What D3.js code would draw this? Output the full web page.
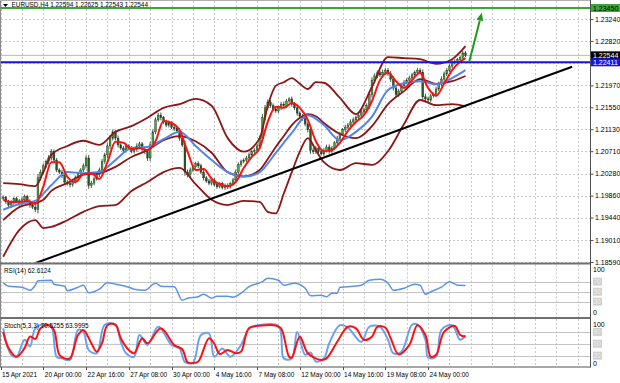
<!DOCTYPE html>
<html>
<head>
<meta charset="utf-8">
<script src="https://cdn.jsdelivr.net/npm/d3@7"></script>
<style>
  html, body { margin: 0; padding: 0; background: #fff; }
  svg { display: block; font-family: "Liberation Sans", Arial, sans-serif; }
</style>
</head>
<body>
<svg id="chart" width="620" height="383"></svg>
<script>
/* ------------------ data ------------------ */

// H4 closes, bar 0 = first bar after 15 Apr 2021
const closes = [
  1.1982,1.1974,1.1968,1.1972,1.1980,1.1976,1.1970,1.1978,1.1984,1.1974,
  1.1968,1.1964,1.1959,1.2020,1.2031,1.2043,1.2051,1.2058,1.2070,1.2054,
  1.2035,1.2031,1.2024,1.2012,1.2009,1.2007,1.2014,1.2020,1.2028,1.2035,
  1.2043,1.2058,1.2005,1.2010,1.2018,1.2026,1.2035,1.2051,1.2064,1.2081,
  1.2096,1.2108,1.2096,1.2083,1.2077,1.2073,1.2081,1.2077,1.2071,1.2075,
  1.2081,1.2085,1.2075,1.2070,1.2058,1.2083,1.2108,1.2131,1.2140,1.2135,
  1.2127,1.2121,1.2125,1.2117,1.2114,1.2110,1.2096,1.2083,1.2031,1.2026,
  1.2035,1.2041,1.2047,1.2043,1.2031,1.2020,1.2014,1.2010,1.2016,1.2007,
  1.2003,1.2009,1.2001,1.2005,1.2003,1.2009,1.2016,1.2031,1.2045,1.2051,
  1.2054,1.2058,1.2064,1.2070,1.2073,1.2081,1.2096,1.2135,1.2154,1.2165,
  1.2158,1.2152,1.2148,1.2154,1.2161,1.2158,1.2167,1.2171,1.2161,1.2154,
  1.2144,1.2138,1.2133,1.2123,1.2112,1.2073,1.2070,1.2077,1.2070,1.2066,
  1.2073,1.2079,1.2071,1.2077,1.2087,1.2096,1.2104,1.2112,1.2117,1.2121,
  1.2127,1.2131,1.2135,1.2140,1.2146,1.2150,1.2158,1.2179,1.2207,1.2215,
  1.2221,1.2217,1.2222,1.2226,1.2219,1.2209,1.2192,1.2179,1.2186,1.2196,
  1.2203,1.2207,1.2211,1.2217,1.2222,1.2226,1.2222,1.2175,1.2171,1.2169,
  1.2177,1.2180,1.2190,1.2200,1.2209,1.2219,1.2226,1.2234,1.2241,1.2243,
  1.2246,1.2250,1.2259,1.22544
];

// wick length per bar, pips
const wickPips = [
  9,7,8,10,6,8,7,9,8,7, 10,8,9,14,10,9,8,11,10,9, 8,7,9,8,7,10,8,9,8,7,
  9,10,12,9,8,7,9,10,8,11, 12,9,8,10,7,8,9,7,8,9, 10,8,7,9,11,12,10,9,8,10,
  7,8,9,7,8,9,10,8,14,10, 9,8,7,9,8,10,7,8,9,7, 8,6,7,8,9,7,8,10,9,8,
  7,8,9,7,8,9,10,14,11,10, 8,9,7,8,9,10,8,7,9,8, 10,7,8,9,10,14,9,8,9,7,
  8,9,10,8,7,9,8,7,9,8, 10,9,8,7,9,8,9,12,11,10, 9,8,10,9,8,11,10,9,8,7,
  9,8,9,8,7,9,8,11,12,9, 8,7,9,8,10,9,8,7,9,8, 7,6,8,7
];

// fast MA (red), [bar, price]
const fastMA = [
  [0,1.1978],[3,1.1974],[6,1.1974],[9,1.1976],[12,1.1970],[15,1.2003],[18,1.2050],
  [21,1.2050],[24,1.2022],[27,1.2012],[30,1.2027],[33,1.2029],[36,1.2018],[39,1.2050],
  [42,1.2089],[45,1.2087],[48,1.2075],[51,1.2077],[54,1.2073],[57,1.2090],[60,1.2129],
  [63,1.2125],[66,1.2112],[69,1.2070],[72,1.2035],[75,1.2037],[78,1.2018],[81,1.2008],
  [84,1.2004],[87,1.2012],[90,1.2039],[93,1.2060],[96,1.2077],[99,1.2127],[102,1.2156],
  [105,1.2154],[108,1.2163],[111,1.2154],[114,1.2131],[117,1.2090],[120,1.2071],
  [123,1.2073],[126,1.2087],[129,1.2110],[132,1.2127],[135,1.2140],[138,1.2167],
  [141,1.2207],[144,1.2221],[147,1.2205],[150,1.2192],[153,1.2207],[156,1.2221],
  [159,1.2192],[162,1.2177],[165,1.2200],[168,1.2226],[171,1.2242],[173,1.2249]
];

// slow MA (blue), [bar, price]
const slowMA = [
  [0,1.1959],[6,1.1970],[12,1.1976],[18,1.2006],[24,1.2031],[30,1.2029],[36,1.2031],
  [42,1.2054],[48,1.2077],[54,1.2079],[60,1.2094],[66,1.2108],[72,1.2081],[78,1.2054],
  [84,1.2031],[90,1.2022],[96,1.2031],[102,1.2068],[108,1.2106],[114,1.2140],
  [120,1.2121],[126,1.2092],[132,1.2108],[138,1.2137],[144,1.2188],[150,1.2201],
  [156,1.2205],[162,1.2199],[168,1.2211],[173,1.2226]
];

// Bollinger bands (dark red), [bar, price]
const bbUpper = [
  [0,1.2010],[6,1.2008],[12,1.2004],[15,1.2031],[18,1.2064],[24,1.2081],[30,1.2091],
  [36,1.2083],[42,1.2108],[48,1.2119],[54,1.2135],[60,1.2154],[66,1.2161],[72,1.2171],
  [78,1.2158],[84,1.2096],[90,1.2070],[96,1.2096],[99,1.2158],[102,1.2196],[105,1.2203],
  [108,1.2211],[111,1.2200],[114,1.2190],[117,1.2203],[120,1.2202],[126,1.2173],
  [132,1.2142],[138,1.2194],[144,1.2251],[150,1.2249],[156,1.2247],[162,1.2238],
  [168,1.2247],[173,1.2272]
];
const bbMiddle = [
  [0,1.1939],[6,1.1964],[12,1.1972],[15,1.1978],[18,1.1995],[24,1.2010],[30,1.2026],
  [36,1.2029],[42,1.2041],[48,1.2060],[54,1.2073],[60,1.2092],[66,1.2100],[72,1.2090],
  [78,1.2068],[84,1.2031],[90,1.2023],[96,1.2035],[99,1.2056],[102,1.2079],[105,1.2100],
  [108,1.2121],[111,1.2135],[114,1.2142],[117,1.2138],[120,1.2125],[126,1.2104],
  [132,1.2096],[138,1.2119],[144,1.2161],[150,1.2186],[156,1.2209],[162,1.2200],
  [168,1.2205],[173,1.2215]
];
const bbLower = [
  [0,1.1869],[6,1.1920],[12,1.1939],[15,1.1924],[18,1.1926],[24,1.1939],[30,1.1955],
  [36,1.1966],[42,1.1968],[48,1.1995],[54,1.2012],[60,1.2031],[66,1.2039],[72,1.2008],
  [78,1.1978],[84,1.1968],[90,1.1976],[96,1.1974],[99,1.1955],[102,1.1952],[105,1.1990],
  [108,1.2031],[111,1.2070],[114,1.2096],[117,1.2073],[120,1.2050],[126,1.2035],
  [132,1.2048],[138,1.2045],[144,1.2071],[150,1.2123],[156,1.2169],[162,1.2159],
  [168,1.2161],[173,1.2157]
];

// RSI(14), [bar, value]
const rsi = [
  [0,68],[2,61],[7,59],[10,53],[12,63],[13,72],[18,73],[19,65],[23,61],[24,52],[28,59],
  [30,63],[32,48],[36,55],[39,68],[42,65],[47,59],[49,55],[53,53],[57,67],[59,61],[64,60],
  [67,33],[69,37],[73,40],[75,45],[78,37],[80,41],[84,41],[86,39],[89,47],[92,60],[97,70],
  [99,77],[103,73],[105,63],[109,67],[113,57],[115,42],[119,43],[121,40],[123,47],[125,47],
  [126,59],[129,60],[134,63],[137,73],[141,75],[144,67],[146,53],[150,57],[154,65],[156,63],
  [158,45],[160,50],[164,59],[167,70],[170,63],[173,62.6]
];

// Stochastic(5,3,3): main (blue) and signal (red), [bar, value]
const stochMain = [
  [0,89],[3,22],[5,17],[8,60],[10,43],[12,89],[15,99],[18,93],[20,17],[22,13],[25,9],
  [28,85],[30,80],[32,34],[35,26],[38,98],[42,99],[44,55],[46,26],[49,17],[51,72],
  [54,47],[58,93],[63,47],[66,38],[68,4],[71,2],[74,72],[77,76],[79,17],[82,38],[85,17],
  [89,47],[92,89],[94,95],[103,95],[105,13],[108,13],[110,80],[113,22],[115,28],[117,5],
  [120,13],[122,51],[126,97],[129,91],[134,55],[137,93],[141,93],[144,60],[146,26],
  [149,30],[153,98],[155,99],[158,60],[159,15],[162,17],[164,85],[168,97],[171,60],[173,72]
];
const stochSignal = [
  [0,80],[2,39],[5,17],[8,39],[10,68],[12,62],[14,89],[17,97],[19,85],[21,22],[23,13],
  [25,13],[28,72],[30,85],[33,51],[35,30],[37,52],[39,97],[42,98],[44,64],[47,34],
  [49,26],[52,64],[54,51],[59,89],[64,47],[67,36],[69,3],[71,1],[73,5],[77,64],[79,50],
  [81,24],[84,34],[87,26],[89,30],[92,89],[97,96],[102,96],[104,89],[107,17],[108,15],
  [111,68],[114,26],[119,9],[121,13],[125,55],[129,93],[132,89],[135,60],[138,68],
  [140,93],[143,91],[145,64],[148,23],[152,47],[155,97],[158,72],[160,17],[162,22],
  [165,80],[169,95],[171,72],[173,68]
];

// axes
const priceTicks = [1.2324,1.2282,1.2240,1.2197,1.2155,1.2113,1.2071,1.2028,1.1986,1.1944,1.1901,1.1859];
const timeTickBars = [-1,15,31,47,63,79,95,111,127,143,159];
const timeTickLabels = ["15 Apr 2021","20 Apr 00:00","22 Apr 16:00","27 Apr 08:00","30 Apr 00:00",
  "4 May 16:00","7 May 08:00","12 May 00:00","14 May 16:00","19 May 08:00","24 May 00:00"];

// drawn objects
const resistance = 1.23450;
const support = 1.22411;
const bid = 1.22544;
const trendLine = [[11.9, 1.18565], [212.9, 1.22327]];
const arrow = [[174.4, 1.2242], [179.1, 1.2336]];
const title = "EURUSD,H4  1.22594 1.22625 1.22543 1.22544";
const rsiTitle = "RSI(14) 62.6124";
const stochTitle = "Stoch(5,3,3) 70.5255 63.9995";

/* ------------------ layout ------------------ */

const PLOT_L = 1, PLOT_R = 590;
const MAIN = { top: 1, bottom: 262.5 };
const RSI_P = { top: 264.5, bottom: 317 };
const STO_P = { top: 319, bottom: 366.5 };

const x = d3.scaleLinear().domain([0, 173]).range([3.2, 465.5]);
const y = d3.scaleLinear().domain([1.1859, 1.2345]).range([262, 8]);
const yRsi = d3.scaleLinear().domain([0, 100]).range([316.7, 266.7]);
const ySto = d3.scaleLinear().domain([0, 100]).range([363.5, 324]);

const svg = d3.select("#chart");
svg.append("rect").attr("width", 620).attr("height", 383).attr("fill", "#fff");

const defs = svg.append("defs");
function clip(id, p) {
  defs.append("clipPath").attr("id", id).append("rect")
    .attr("x", PLOT_L).attr("y", p.top)
    .attr("width", PLOT_R - PLOT_L).attr("height", p.bottom - p.top);
}
clip("cMain", MAIN); clip("cRsi", RSI_P); clip("cSto", STO_P);

/* ---- grid ---- */

const grid = svg.append("g").attr("stroke", "#c9c9c9").attr("stroke-dasharray", "2,2");
const gridBars = d3.range(-1, 222, 8);
[MAIN, RSI_P, STO_P].forEach(p => {
  grid.selectAll(null).data(gridBars).join("line")
    .attr("x1", d => Math.round(x(d)) + 0.5).attr("x2", d => Math.round(x(d)) + 0.5)
    .attr("y1", p.top).attr("y2", p.bottom);
});
grid.selectAll(null).data(priceTicks).join("line")
  .attr("x1", PLOT_L).attr("x2", PLOT_R)
  .attr("y1", d => Math.round(y(d)) + 0.5).attr("y2", d => Math.round(y(d)) + 0.5);

// indicator levels
svg.append("g").attr("stroke", "#c4c4c4")
  .selectAll("line").data([70, 50, 30]).join("line")
  .attr("x1", PLOT_L).attr("x2", PLOT_R)
  .attr("y1", d => Math.round(yRsi(d)) + 0.5).attr("y2", d => Math.round(yRsi(d)) + 0.5);
svg.append("g").attr("stroke", "#c4c4c4")
  .selectAll("line").data([80, 50, 20]).join("line")
  .attr("x1", PLOT_L).attr("x2", PLOT_R)
  .attr("y1", d => Math.round(ySto(d)) + 0.5).attr("y2", d => Math.round(ySto(d)) + 0.5);

/* ---- main panel ---- */

const main = svg.append("g").attr("clip-path", "url(#cMain)");

main.append("line").attr("x1", PLOT_L).attr("x2", PLOT_R)
  .attr("y1", y(bid)).attr("y2", y(bid)).attr("stroke", "#b8b8b8").attr("stroke-width", 1);

const candles = closes.map((c, i) => {
  const o = i === 0 ? c : closes[i - 1];
  const w = wickPips[i] * 0.00005;
  return { i, o, c, h: Math.max(o, c) + w, l: Math.min(o, c) - w };
});

main.append("g").selectAll("line").data(candles).join("line")
  .attr("x1", d => x(d.i)).attr("x2", d => x(d.i))
  .attr("y1", d => y(d.h)).attr("y2", d => y(d.l))
  .attr("stroke", "#1d2a1d").attr("stroke-width", 0.8);

main.append("g").selectAll("rect").data(candles).join("rect")
  .attr("x", d => x(d.i) - 0.9).attr("width", 1.8)
  .attr("y", d => y(Math.max(d.o, d.c)))
  .attr("height", d => Math.max(0.8, Math.abs(y(d.o) - y(d.c))))
  .attr("fill", d => d.c >= d.o ? "#44a844" : "#245a24")
  .attr("stroke", "#1d2a1d").attr("stroke-width", 0.4);

const priceLine = d3.line().x(d => x(d[0])).y(d => y(d[1])).curve(d3.curveMonotoneX);

[bbUpper, bbMiddle, bbLower].forEach(s => {
  main.append("path").datum(s).attr("d", priceLine)
    .attr("fill", "none").attr("stroke", "#8b1717").attr("stroke-width", 1.8);
});
main.append("path").datum(slowMA).attr("d", priceLine)
  .attr("fill", "none").attr("stroke", "#4f86ee").attr("stroke-width", 2);
main.append("path").datum(fastMA).attr("d", priceLine)
  .attr("fill", "none").attr("stroke", "#ff1010").attr("stroke-width", 2);

main.append("line").attr("x1", PLOT_L).attr("x2", PLOT_R)
  .attr("y1", y(resistance)).attr("y2", y(resistance))
  .attr("stroke", "#3aa53a").attr("stroke-width", 2);
main.append("line").attr("x1", PLOT_L).attr("x2", PLOT_R)
  .attr("y1", y(support)).attr("y2", y(support))
  .attr("stroke", "#1414e6").attr("stroke-width", 2);

main.append("line")
  .attr("x1", x(trendLine[0][0])).attr("y1", y(trendLine[0][1]))
  .attr("x2", x(trendLine[1][0])).attr("y2", y(trendLine[1][1]))
  .attr("stroke", "#000").attr("stroke-width", 2);

// arrow
const ax1 = x(arrow[0][0]), ay1 = y(arrow[0][1]);
const ax2 = x(arrow[1][0]), ay2 = y(arrow[1][1]);
const ang = Math.atan2(ay2 - ay1, ax2 - ax1);
const hl = 8, hw = 3.5;
const bx = ax2 - hl * Math.cos(ang), by = ay2 - hl * Math.sin(ang);
main.append("line").attr("x1", ax1).attr("y1", ay1).attr("x2", bx).attr("y2", by)
  .attr("stroke", "#1f9a1f").attr("stroke-width", 2);
main.append("polygon")
  .attr("points", [
    [ax2, ay2],
    [bx + hw * Math.sin(ang), by - hw * Math.cos(ang)],
    [bx - hw * Math.sin(ang), by + hw * Math.cos(ang)]
  ].map(p => p.join(",")).join(" "))
  .attr("fill", "#1f9a1f");

// title
svg.append("path").attr("d", "M3,4 L8,4 L5.5,7 Z").attr("fill", "#000");
svg.append("text").attr("x", 11.5).attr("y", 7.4).attr("font-size", 6.4)
  .attr("fill", "#000").text(title);

/* ---- RSI panel ---- */

const rsiG = svg.append("g").attr("clip-path", "url(#cRsi)");
rsiG.append("path").datum(rsi)
  .attr("d", d3.line().x(d => x(d[0])).y(d => yRsi(d[1])).curve(d3.curveMonotoneX))
  .attr("fill", "none").attr("stroke", "#5b95e8").attr("stroke-width", 1.5);
svg.append("text").attr("x", 4).attr("y", 273).attr("font-size", 6.4).text(rsiTitle);

/* ---- Stochastic panel ---- */

const stoG = svg.append("g").attr("clip-path", "url(#cSto)");
const stoLine = d3.line().x(d => x(d[0])).y(d => ySto(d[1]))
  .curve(d3.curveCatmullRom.alpha(0.5));
stoG.append("path").datum(stochMain).attr("d", stoLine)
  .attr("fill", "none").attr("stroke", "#6aa2ef").attr("stroke-width", 2);
stoG.append("path").datum(stochSignal).attr("d", stoLine)
  .attr("fill", "none").attr("stroke", "#ff1010").attr("stroke-width", 2);
svg.append("text").attr("x", 4).attr("y", 328).attr("font-size", 6.4).text(stochTitle);

/* ---- frames ---- */

svg.append("line").attr("x1", 0.5).attr("x2", 0.5).attr("y1", 0).attr("y2", 367)
  .attr("stroke", "#8a8a8a");
svg.append("line").attr("x1", 0).attr("x2", PLOT_R).attr("y1", 0.5).attr("y2", 0.5)
  .attr("stroke", "#b0b0b0");
[[MAIN.bottom, RSI_P.top], [RSI_P.bottom, STO_P.top]].forEach(([a, b]) => {
  svg.append("rect").attr("x", 0).attr("y", a).attr("width", PLOT_R + 1).attr("height", b - a)
    .attr("fill", "#707070");
});
svg.append("line").attr("x1", 0).attr("x2", PLOT_R + 1).attr("y1", STO_P.bottom + 0.5).attr("y2", STO_P.bottom + 0.5)
  .attr("stroke", "#505050").attr("stroke-width", 1);
svg.append("line").attr("x1", PLOT_R + 0.5).attr("x2", PLOT_R + 0.5).attr("y1", 0).attr("y2", 367)
  .attr("stroke", "#505050");

/* ---- price axis ---- */

const fmt = d3.format(".5f");
const yAxis = d3.axisRight(y).tickValues(priceTicks)
  .tickFormat(d => Math.abs(d - support) < 0.0003 ? "" : fmt(d))   // hidden under the line label
  .tickSize(3).tickPadding(1.5);
const yAxisG = svg.append("g").attr("transform", `translate(${PLOT_R + 0.5},0)`).call(yAxis);
yAxisG.select(".domain").remove();
yAxisG.selectAll("line").attr("stroke", "#505050");
yAxisG.selectAll("text").attr("font-size", 7).attr("fill", "#000")
  .attr("font-family", "Liberation Sans, Arial, sans-serif");

function priceBox(v, fill, color) {
  const cy = y(v);
  svg.append("rect").attr("x", PLOT_R + 1).attr("y", cy - 4).attr("width", 29).attr("height", 8)
    .attr("fill", fill);
  svg.append("text").attr("x", PLOT_R + 3).attr("y", cy + 2.5).attr("font-size", 7)
    .attr("fill", color).text(fmt(v));
}
priceBox(resistance, "#3aa53a", "#000");
priceBox(bid, "#000", "#fff");
priceBox(support, "#1414e6", "#fff");

/* ---- indicator axes ---- */

function levelBox(cy, label) {
  svg.append("rect").attr("x", PLOT_R + 3).attr("y", cy - 4).attr("width", 9).attr("height", 8)
    .attr("fill", "#d0d0d0");
  svg.append("text").attr("x", PLOT_R + 3.5).attr("y", cy + 2.3).attr("font-size", 6.5)
    .attr("fill", "#eeeeee").text(label);
}
[70, 50, 30].forEach(v => levelBox(yRsi(v), v));
[80, 50, 20].forEach(v => levelBox(ySto(v), v));

const axisTxt = [[yRsi(100) + 5.5, "100"], [yRsi(0) - 1.5, "0"], [ySto(100) + 2.5, "100"], [ySto(0) + 2.5, "0"]];
svg.append("g").selectAll("text").data(axisTxt).join("text")
  .attr("x", PLOT_R + 3).attr("y", d => d[0]).attr("font-size", 7).text(d => d[1]);

/* ---- time axis ---- */

const tG = svg.append("g");
tG.selectAll("line").data(timeTickBars).join("line")
  .attr("x1", d => Math.round(x(d)) + 0.5).attr("x2", d => Math.round(x(d)) + 0.5)
  .attr("y1", 367).attr("y2", 370).attr("stroke", "#505050");
tG.selectAll("text").data(timeTickBars).join("text")
  .attr("x", d => x(d) + 1.5).attr("y", 376.5).attr("font-size", 6.5)
  .text((d, i) => timeTickLabels[i]);
</script>
</body>
</html>
